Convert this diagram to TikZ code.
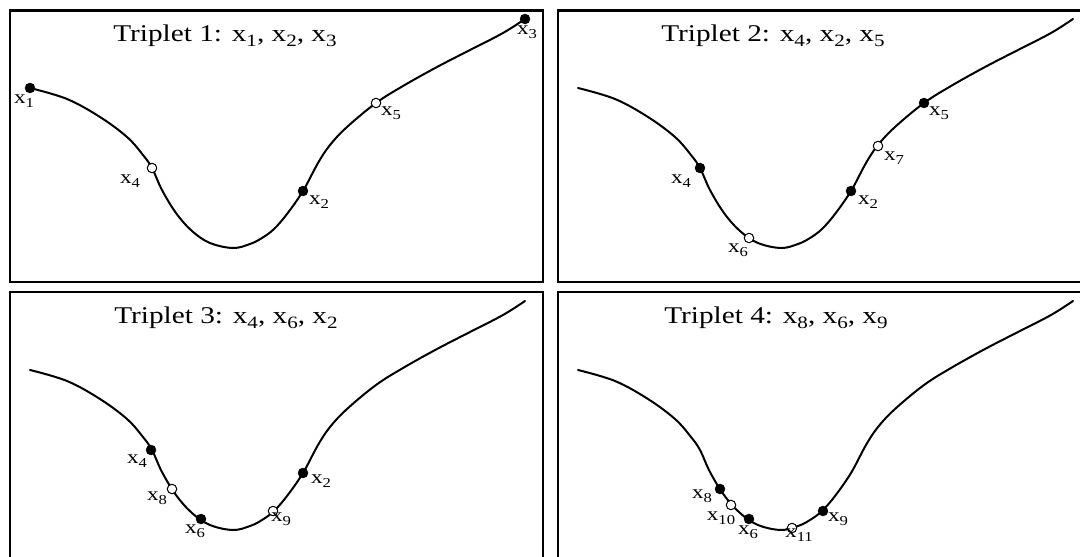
\documentclass[tikz,border=0pt]{standalone}
\usepackage{fontspec}
\setmainfont{Liberation Serif}
\newcommand\xl[1]{x\raisebox{-0.22em}{\scalebox{0.72}{#1}}}
\newcommand\wide[1]{\scalebox{1.22}[1]{#1}}
\tikzset{
 fdot/.style={circle, fill=black, draw=black, inner sep=0pt, minimum size=10pt},
 odot/.style={circle, fill=white, draw=black, line width=1pt, inner sep=0pt, minimum size=9.5pt},
 lbl/.style={font=\fontsize{19}{19}\selectfont, inner sep=0pt},
 ttl/.style={font=\fontsize{24}{24}\selectfont, inner sep=0pt},
 frame/.style={draw=black, line width=2.8pt},
 crv/.style={line width=2pt, line join=round, line cap=round},
}
\newcommand\mycurve{\draw[crv] plot[smooth, tension=0.6] coordinates {(30,88) (67,99) (100,117) (127,137) (143,155) (152,168) (162,190) (176,213) (192,231) (210,243) (233,248) (250,244) (262,238) (274,229) (287,214) (303,191) (318,163) (330,145) (347,127) (376,103) (403,86) (437,67) (470,50) (503,33) (525,19)};}
\begin{document}
\begin{tikzpicture}[x=1pt, y=-1pt]
\useasboundingbox (0,0) rectangle (1080,557);
\clip (0,0) rectangle (1080,557);
\fill[white] (0,0) rectangle (1080,557);
% frames
\draw[frame] (10,10.5) rectangle (543,282);
\draw[frame] (558,10.5) rectangle (1095,282);
\draw[frame] (10,292) rectangle (543,570);
\draw[frame] (558,292) rectangle (1095,570);
% panel 1
\begin{scope}
\mycurve
\node[ttl] (t1) at (225,36) {\wide{Triplet 1: \xl{1}, \xl{2}, \xl{3}}};
\node[fdot] (a1) at (30,88) {};
\node[odot] (a4) at (152,168) {};
\node[fdot] (a2) at (303,191) {};
\node[odot] (a5) at (376,103) {};
\node[fdot] (a3) at (525,19) {};
\node[lbl] (la1) at (24,101) {\wide{\xl{1}}};
\node[lbl] (la4) at (130,181) {\wide{\xl{4}}};
\node[lbl] (la2) at (319,202) {\wide{\xl{2}}};
\node[lbl] (la5) at (391,113) {\wide{\xl{5}}};
\node[lbl] (la3) at (527,32) {\wide{\xl{3}}};
\end{scope}
% panel 2
\begin{scope}[shift={(548,0)}]
\mycurve
\node[ttl] (t2) at (225,36) {\wide{Triplet 2: \xl{4}, \xl{2}, \xl{5}}};
\node[fdot] (b4) at (152,168) {};
\node[odot] (b6) at (201,238) {};
\node[fdot] (b2) at (303,191) {};
\node[odot] (b7) at (330,146) {};
\node[fdot] (b5) at (376,103) {};
\node[lbl] (lb4) at (133,181) {\wide{\xl{4}}};
\node[lbl] (lb6) at (190,250) {\wide{\xl{6}}};
\node[lbl] (lb2) at (320,202) {\wide{\xl{2}}};
\node[lbl] (lb7) at (346,158) {\wide{\xl{7}}};
\node[lbl] (lb5) at (391,113) {\wide{\xl{5}}};
\end{scope}
% panel 3
\begin{scope}[shift={(0,282)}]
\mycurve
\node[ttl] (t3) at (226,36) {\wide{Triplet 3: \xl{4}, \xl{6}, \xl{2}}};
\node[fdot] (c4) at (151,168) {};
\node[odot] (c8) at (172,207) {};
\node[fdot] (c6) at (201,237) {};
\node[odot] (c9) at (273,229) {};
\node[fdot] (c2) at (303,191) {};
\node[lbl] (lc4) at (137,179) {\wide{\xl{4}}};
\node[lbl] (lc8) at (157,216) {\wide{\xl{8}}};
\node[lbl] (lc6) at (195,249) {\wide{\xl{6}}};
\node[lbl] (lc9) at (281,237) {\wide{\xl{9}}};
\node[lbl] (lc2) at (321,199) {\wide{\xl{2}}};
\end{scope}
% panel 4
\begin{scope}[shift={(548,282)}]
\mycurve
\node[ttl] (t4) at (228,36) {\wide{Triplet 4: \xl{8}, \xl{6}, \xl{9}}};
\node[fdot] (d8) at (172,207) {};
\node[odot] (d10) at (183,223) {};
\node[fdot] (d6) at (201,237) {};
\node[odot] (d11) at (244,246) {};
\node[fdot] (d9) at (275,229) {};
\node[lbl] (ld8) at (154,214) {\wide{\xl{8}}};
\node[lbl] (ld10) at (173,236) {\wide{\xl{10}}};
\node[lbl] (ld6) at (200,250) {\wide{\xl{6}}};
\node[lbl] (ld11) at (251,253) {\wide{\xl{11}}};
\node[lbl] (ld9) at (290,237) {\wide{\xl{9}}};
\end{scope}
\end{tikzpicture}
\end{document}
